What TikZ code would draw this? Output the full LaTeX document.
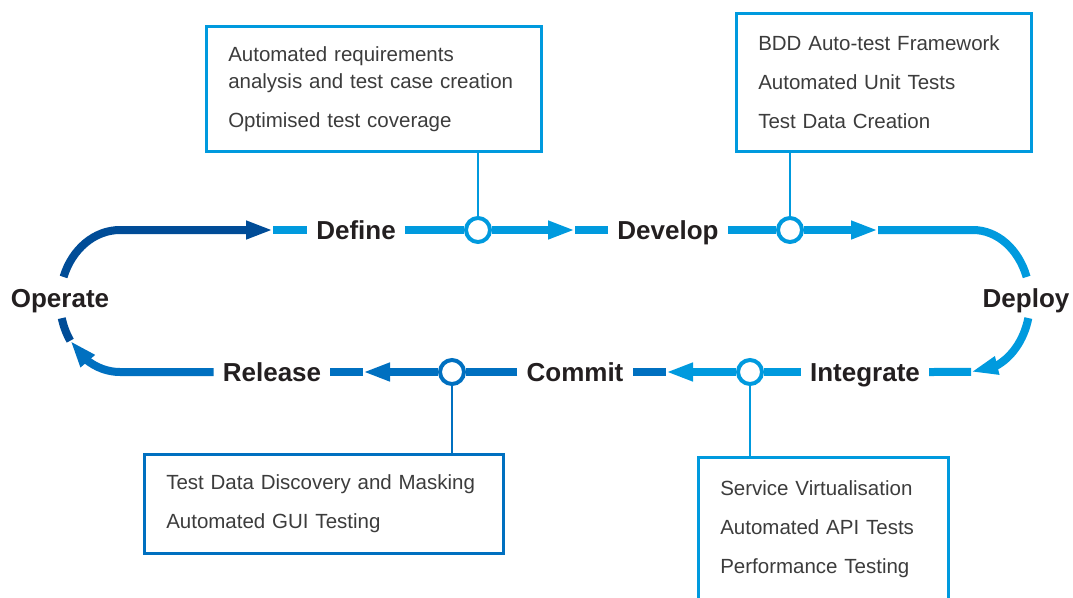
\documentclass[tikz,border=0pt]{standalone}
\usepackage{fontspec}
\setmainfont{Liberation Sans}
\usetikzlibrary{arrows.meta,bending,calc}

\definecolor{darkblue}{HTML}{004C97}
\definecolor{midblue}{HTML}{0070C0}
\definecolor{lightblue}{HTML}{009ADE}
\definecolor{labeltext}{HTML}{231F20}
\definecolor{boxtext}{HTML}{3C3C3C}

\begin{document}
\begin{tikzpicture}[x=1pt,y=-1pt,
  flow/.style={line width=8pt},
  flowtip/.style={flow,-{Triangle[length=27pt,width=17pt]}},
  stage/.style={font=\fontsize{26}{26}\selectfont\bfseries, text=labeltext,
    inner xsep=9pt, inner ysep=0pt, text height=18.6pt, text depth=0pt},
  hub/.style={circle, draw, line width=4pt, fill=white, minimum size=24pt, inner sep=0pt},
  infobox/.style={draw, line width=2.5pt, align=left, anchor=north west,
    font=\fontsize{20.5}{27}\selectfont, text=boxtext, inner xsep=22pt, inner ysep=0pt},
  stem/.style={line width=2pt}]

  \clip (0,0) rectangle (1073,597);

  % stredy oblouku vlevo a vpravo
  \coordinate (lc) at (120,301);
  \coordinate (rc) at (973,301);

  % popisky faze
  \node[stage] (define)    at (356,230) {Define};
  \node[stage] (develop)   at (668,230) {Develop};
  \node[stage] (deploy)    at (1026,298) {Deploy};
  \node[stage] (integrate) at (865,372) {Integrate};
  \node[stage] (commit)    at (575,372) {Commit};
  \node[stage] (release)   at (272,372) {Release};
  \node[stage] (operate)   at (60,298) {Operate};

  % kolecka
  \node[hub, draw=lightblue] (hubdef) at (478,230) {};
  \node[hub, draw=lightblue] (hubdev) at (790,230) {};
  \node[hub, draw=lightblue] (hubint) at (750,372) {};
  \node[hub, draw=midblue]   (hubcom) at (452,372) {};

  % hroty sipek
  \coordinate (tipop)  at (273,230);
  \coordinate (tipdef) at (575,230);
  \coordinate (tipdev) at (878,230);
  \coordinate (tipint) at (666,372);
  \coordinate (tipcom) at (363,372);

  % konce oblouku
  \coordinate (optop) at ($(lc)+(199.8:60 and 71)$);
  \coordinate (opbot) at ($(lc)+(166:60 and 71)$);
  \coordinate (deptop) at ($(rc)+(340.2:57 and 71)$);
  \coordinate (depbot) at ($(rc)+(13.9:57 and 71)$);

  % horni rada
  \draw[flowtip, darkblue] (optop) arc[start angle=199.8, end angle=270, x radius=60, y radius=71] -- (tipop);
  \draw[flow, lightblue] (tipop) -- (define.west);
  \draw[flow, lightblue] (define.east) -- (hubdef.west);
  \draw[flowtip, lightblue] (hubdef.east) -- (tipdef);
  \draw[flow, lightblue] (tipdef) -- (develop.west);
  \draw[flow, lightblue] (develop.east) -- (hubdev.west);
  \draw[flowtip, lightblue] (hubdev.east) -- (tipdev);
  \draw[flow, lightblue] (tipdev) -- (973,230) arc[start angle=270, end angle=340.2, x radius=57, y radius=71];

  % prava strana a dolni rada
  \draw[flowtip, lightblue] (depbot) arc[start angle=13.9, end angle=92, x radius=57, y radius=71] coordinate (tipdep);
  \draw[flow, lightblue] (tipdep) -- (integrate.east);
  \draw[flow, lightblue] (integrate.west) -- (hubint.east);
  \draw[flowtip, lightblue] (hubint.west) -- (tipint);
  \draw[flow, midblue] (tipint) -- (commit.east);
  \draw[flow, midblue] (commit.west) -- (hubcom.east);
  \draw[flowtip, midblue] (hubcom.west) -- (tipcom);
  \draw[flow, midblue] (tipcom) -- (release.east);
  \draw[flowtip, midblue] (release.west) -- (120,372) arc[start angle=90, end angle=146, x radius=60, y radius=71];
  \draw[flow, darkblue] (opbot) arc[start angle=166, end angle=146, x radius=60, y radius=71];

  % ramecky
  \node[infobox, draw=lightblue, text width=291pt, minimum height=125pt] (boxdef) at (205,25)
    {Automated requirements\\analysis and test case creation\\[12pt]Optimised test coverage};
  \node[infobox, draw=lightblue, text width=251pt, minimum height=138pt] (boxdev) at (735,12)
    {BDD Auto-test Framework\\[12pt]Automated Unit Tests\\[12pt]Test Data Creation};
  \node[infobox, draw=midblue, text width=315pt, minimum height=99pt] (boxcom) at (143,453)
    {Test Data Discovery and Masking\\[12pt]Automated GUI Testing};
  \node[infobox, draw=lightblue, text width=206pt, minimum height=144pt] (boxint) at (697,456)
    {Service Virtualisation\\[12pt]Automated API Tests\\[12pt]Performance Testing};

  \draw[stem, lightblue] (hubdef.north) -- (hubdef.north |- boxdef.south);
  \draw[stem, lightblue] (hubdev.north) -- (hubdev.north |- boxdev.south);
  \draw[stem, lightblue] (hubint.south) -- (hubint.south |- boxint.north);
  \draw[stem, midblue]   (hubcom.south) -- (hubcom.south |- boxcom.north);

\end{tikzpicture}
\end{document}
